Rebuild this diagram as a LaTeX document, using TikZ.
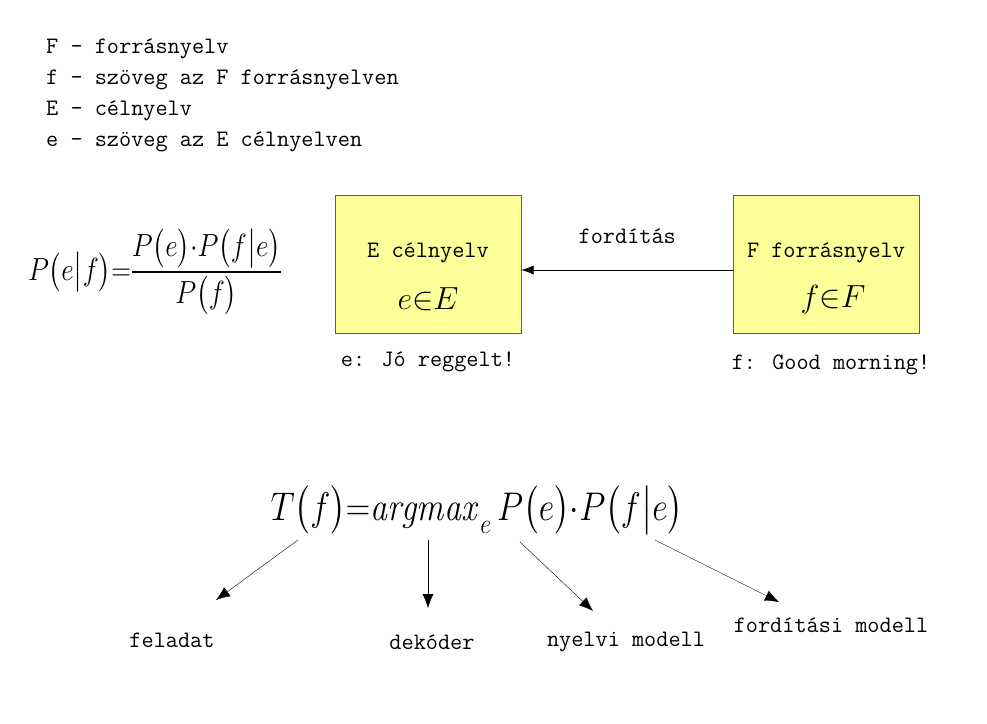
\RequirePackage{fix-cm}
\documentclass[tikz,border=0pt]{standalone}
\usepackage{fontspec}
\usepackage{amsmath}
\usepackage{amssymb}
\usepackage{graphicx}
\usetikzlibrary{arrows.meta}
\definecolor{boxyellow}{HTML}{FFFF99}
\definecolor{boxblue}{HTML}{3465A4}
\newcommand{\narrow}[1]{\scalebox{0.85}[1]{#1}}
\tikzset{
  lang/.style={draw=boxblue, line width=1pt, fill=boxyellow, minimum width=186pt, minimum height=138pt, inner sep=0pt},
  mono/.style={font=\ttfamily\fontsize{23.6}{28}\selectfont, inner sep=0pt},
  bigmath/.style={font=\fontsize{32}{38}\selectfont, inner sep=0pt},
  hugemath/.style={font=\fontsize{40}{46}\selectfont, inner sep=0pt},
  tip/.style={-{Latex[length=14pt,width=11pt]}},
}
\begin{document}
\begin{tikzpicture}[x=1pt,y=-1pt]
        \useasboundingbox (0,0) rectangle (987,723);
        % Legend.
        \node [mono, anchor=west] (legF) at (46,49) {F - forrásnyelv};
        \node [mono, anchor=west] (legf) at (46,80) {f - szöveg az F forrásnyelven};
        \node [mono, anchor=west] (legE) at (46,111) {E - célnyelv};
        \node [mono, anchor=west] (lege) at (46,142) {e - szöveg az E célnyelven};
        % Bayes.
        \node [bigmath] (bayes) at (155,272) {\narrow{$P\bigl(e\big|f\bigr){=}\dfrac{P\bigl(e\bigr){\cdot}P\bigl(f\big|e\bigr)}{P\bigl(f\bigr)}$}};
        % The two languages.
        \node [lang] (cel) at (428,264) {};
        \node [lang] (forras) at (826.5,264) {};
        \node [mono] (celname) at (428,253) {E célnyelv};
        \node [bigmath] (celset) at (428,299) {$e{\in}E$};
        \node [mono] (forrasname) at (826,253) {F forrásnyelv};
        \node [bigmath] (forrasset) at (833,299) {$f{\in}F$};
        \node [mono] (celtext) at (428,362) {e: Jó reggelt!};
        \node [mono] (forrastext) at (831,365) {f: Good morning!};
        \draw [-{Latex[length=12pt,width=9pt]}] ([yshift=-6pt]forras.west) -- node [mono, above=26pt] (ford) {fordítás} ([yshift=-6pt]cel.east);
        % Decision rule.
        \node [hugemath] (rule) at (477,510) {\narrow{$T\bigl(f\bigr){=}\mathit{argmax}_{\,\raisebox{-4pt}{$\scriptstyle e$}}\,P\bigl(e\bigr){\cdot}P\bigl(f\big|e\bigr)$}};
        \node [mono] (feladat) at (172,640) {feladat};
        \node [mono] (dekoder) at (432,642) {dekóder};
        \node [mono] (nyelvi) at (626,642) {nyelvi modell};
        \node [mono] (fordmod) at (831,625) {fordítási modell};
        \coordinate (s1) at (298,540);
        \coordinate (s2) at (428,540);
        \coordinate (s3) at (520,542);
        \coordinate (s4) at (655,540);
        \coordinate (t1) at (216,600);
        \coordinate (t2) at (428,608);
        \coordinate (t3) at (593,611);
        \coordinate (t4) at (779,602);
        \draw [tip] (s1) -- (t1);
        \draw [tip] (s2) -- (t2);
        \draw [tip] (s3) -- (t3);
        \draw [tip] (s4) -- (t4);
      \end{tikzpicture}
\end{document}
